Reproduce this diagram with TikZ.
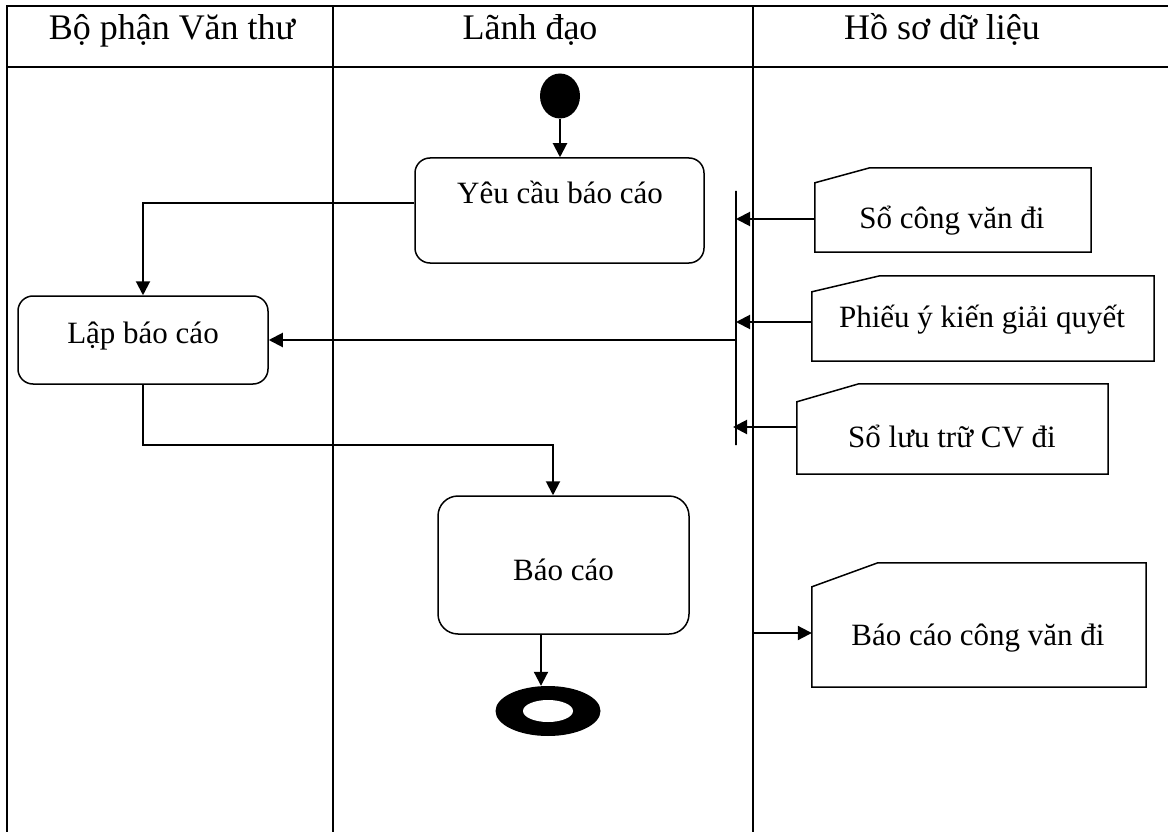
\documentclass[tikz,border=0pt]{standalone}
\usepackage{fontspec}
\setmainfont{Liberation Serif}
\usetikzlibrary{arrows.meta,calc,shapes.geometric}
% outline of a document symbol with its top left corner cut off
\newcommand\docedge[3]{%
  \draw[docline] ($(#1.north west)+(0,#3)$) -- ($(#1.north west)+(#2,0)$)
    -- (#1.north east) -- (#1.south east) -- (#1.south west) -- cycle;}
\begin{document}
\begin{tikzpicture}[x=1pt,y=-1pt,
  grid/.style={line width=2pt, line cap=rect},
  head/.style={anchor=base, inner sep=0pt, font=\fontsize{36}{40}\selectfont},
  lbl/.style={anchor=base, inner sep=0pt, font=\fontsize{31}{36}\selectfont},
  actbox/.style={draw, line width=1.5pt, rounded corners=15pt, inner sep=0pt},
  docarea/.style={draw=none, inner sep=0pt},
  docline/.style={line width=1.5pt, line join=miter},
  syncbar/.style={draw, line width=1.5pt, minimum width=0pt, inner sep=0pt},
  flow/.style={line width=2pt, -{Triangle[length=14pt,width=14pt]}}
]
\useasboundingbox (0,0) rectangle (1168,832);

% swimlane grid
\coordinate (lane0) at (7,6);
\coordinate (lane1) at (333,6);
\coordinate (lane2) at (753,6);
\draw[grid] (lane0) -- (1170,6);
\draw[grid] (7,67) -- (1170,67);
\draw[grid] (lane0) -- ++(0,830);
\draw[grid] (lane1) -- ++(0,830);
\draw[grid] (lane2) -- ++(0,830);

% lane titles
\node[head] (h1) at (172,40) {Bộ phận Văn thư};
\node[head] (h2) at (530,40) {Lãnh đạo};
\node[head] (h3) at (942,40) {Hồ sơ dữ liệu};

% activities
\node[ellipse, fill=black, minimum width=40pt, minimum height=45pt, inner sep=0pt] (start) at (560,96) {};
\node[actbox, minimum width=289pt, minimum height=105pt] (yc) at (559.5,210.5) {};
\node[lbl] (yct) at (560,204) {Yêu cầu báo cáo};
\node[actbox, minimum width=250pt, minimum height=88pt] (lb) at (143,340) {};
\node[lbl] (lbt) at (143,343) {Lập báo cáo};
\node[actbox, rounded corners=20pt, minimum width=251pt, minimum height=138pt] (bc) at (563.5,565) {};
\node[lbl] (bct) at (563.5,580) {Báo cáo};
\node[ellipse, fill=black, minimum width=105pt, minimum height=50pt, inner sep=0pt] (fin) at (548,711) {};
\fill[white] (fin.center) ellipse [x radius=25pt, y radius=11pt];

% synchronisation bar
\node[syncbar, minimum height=254pt] (bar) at (736,318) {};

% data records
\node[docarea, minimum width=276pt, minimum height=84pt] (d1) at (953,210) {};
\docedge{d1}{55}{15}
\node[lbl] (d1t) at (952,228) {Sổ công văn đi};
\node[docarea, minimum width=342pt, minimum height=85pt] (d2) at (983,318.5) {};
\docedge{d2}{68}{16}
\node[lbl] (d2t) at (982,327) {Phiếu ý kiến giải quyết};
\node[docarea, minimum width=311pt, minimum height=90pt] (d3) at (952.5,429) {};
\docedge{d3}{62}{18}
\node[lbl] (d3t) at (952,447) {Sổ lưu trữ CV đi};
\node[docarea, minimum width=334pt, minimum height=124pt] (d4) at (979,625) {};
\docedge{d4}{66}{24}
\node[lbl] (d4t) at (978,645) {Báo cáo công văn đi};

% control flow
\draw[flow] (start.south) -- (start.south |- yc.north);
\draw[flow] ([yshift=7.5pt]yc.west) -| (lb.north);
\coordinate (j1) at (553,445);
\draw[flow] (lb.south) |- (j1) -- (j1 |- bc.north);
\draw[flow] ([xshift=-22.5pt]bc.south) coordinate (b1) -- (b1 |- fin.north);

% object flow
\draw[flow] ([yshift=-9pt]d1.west) coordinate (a1) -- (a1 -| bar);
\draw[flow] ([yshift=-3.5pt]d2.west) coordinate (a2) -- (a2 -| bar);
\draw[flow] ([yshift=2pt]d3.west) coordinate (a3) -- ([xshift=-3pt]a3 -| bar);
\draw[flow] (bar |- lb.east) -- (lb.east);
\coordinate (a4) at ([yshift=-8pt]d4.west);
\draw[flow] (a4 -| lane2) -- (a4);
\end{tikzpicture}
\end{document}
